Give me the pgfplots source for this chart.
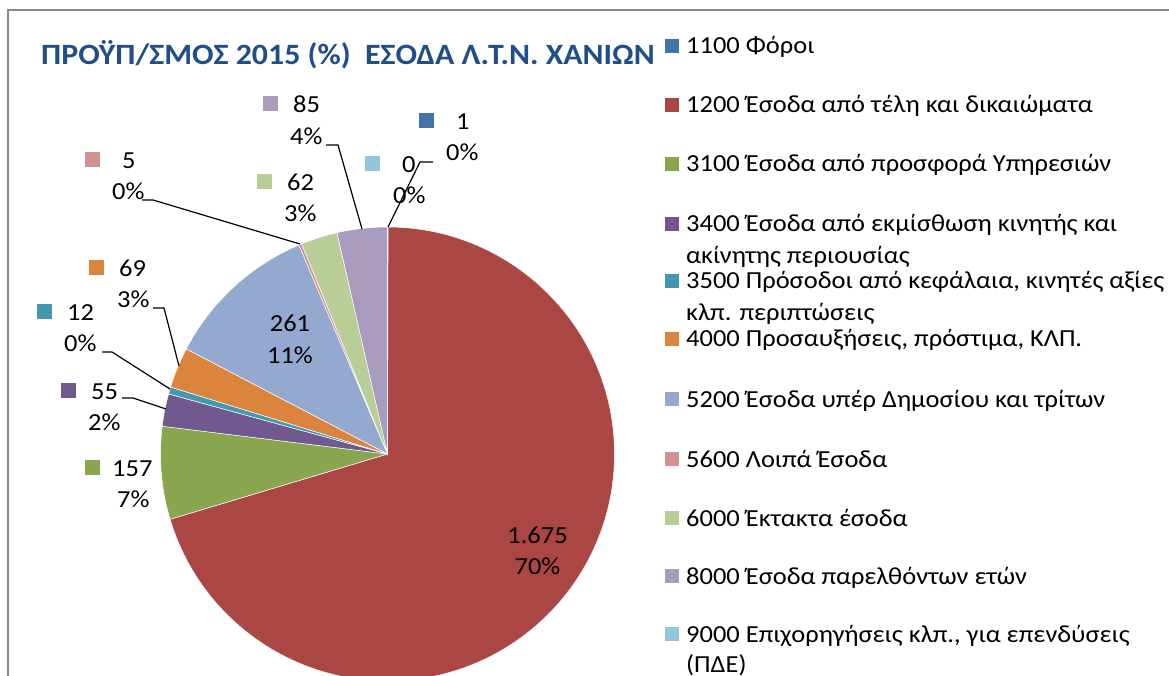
\documentclass[border=0pt]{standalone}
\usepackage{pgfplots}
\usepackage{pgfplotstable}
\pgfplotsset{compat=1.18}
\usepackage{fontspec}
\setmainfont{Carlito}[FakeStretch=1.08]
\definecolor{col0}{HTML}{4572A7}
\definecolor{col1}{HTML}{AA4643}
\definecolor{col2}{HTML}{89A54E}
\definecolor{col3}{HTML}{71588F}
\definecolor{col4}{HTML}{4198AF}
\definecolor{col5}{HTML}{DB843D}
\definecolor{col6}{HTML}{93A9CF}
\definecolor{col7}{HTML}{D19392}
\definecolor{col8}{HTML}{B9CD96}
\definecolor{col9}{HTML}{A99BBD}
\definecolor{col10}{HTML}{93C6DA}
\definecolor{titleblue}{HTML}{1F4E89}
\definecolor{framegray}{HTML}{878787}

\pgfplotstableread{
code value
1100 1
1200 1675
3100 157
3400 55
3500 12
4000 69
5200 261
5600 5
6000 62
8000 85
9000 0
}\piedata

\newcommand{\sq}[1]{\textcolor{#1}{\rule[1.5pt]{15pt}{15pt}}}
\newcommand{\lsq}[1]{\textcolor{#1}{\rule[1pt]{14pt}{14pt}}}
\newcommand{\lfont}{\fontsize{24.5}{31}\selectfont}

\begin{document}
\begin{tikzpicture}[font=\lfont, every node/.append style={inner sep=0pt}]
\pgfplotstablegetrowsof{\piedata}
\pgfmathtruncatemacro\lastrow{\pgfplotsretval-1}
\xdef\pietotal{0}
\foreach \i in {0,...,\lastrow}{%
  \pgfplotstablegetelem{\i}{value}\of\piedata
  \pgfmathsetmacro\tmp{\pietotal+\pgfplotsretval}%
  \xdef\pietotal{\tmp}}
\xdef\piecum{0}
\foreach \i in {0,...,\lastrow}{%
  \pgfplotstablegetelem{\i}{value}\of\piedata
  \pgfmathsetmacro\angA{90-360*(\piecum/\pietotal)}%
  \pgfmathsetmacro\tmp{\piecum+\pgfplotsretval}%
  \xdef\piecum{\tmp}%
  \pgfmathsetmacro\angB{90-360*(\piecum/\pietotal)}%
  \expandafter\xdef\csname pieA\i\endcsname{\angA}%
  \expandafter\xdef\csname pieB\i\endcsname{\angB}}
\begin{axis}[
  scale only axis, width=1169pt, height=675pt,
  xmin=0, xmax=1169, ymin=0, ymax=675,
  hide axis, clip=false,
]
\coordinate (sw) at (rel axis cs:0,0);
\coordinate (ne) at (rel axis cs:1,1);
\draw[framegray, line width=2pt] (axis cs:8,-30) -- (axis cs:8,665) -- (axis cs:1200,665);
\pgfplotsinvokeforeach{0,...,10}{
  \fill[col#1, draw=white, line width=0.5pt] (axis cs:387.5,221) -- ++(\csname pieA#1\endcsname:227pt)
    arc[start angle=\csname pieA#1\endcsname, end angle=\csname pieB#1\endcsname, radius=227pt] -- cycle;
}
% leader lines
\addplot[black, line width=1.2pt, mark=none] coordinates {(433,513) (420,513) (388,448)};
\addplot[black, line width=1.2pt, mark=none] coordinates {(326,530) (338,530) (362,446)};
\addplot[black, line width=1.2pt, mark=none] coordinates {(142,475) (153,475) (300,431)};
\addplot[black, line width=1.2pt, mark=none] coordinates {(153,367) (164,367) (179,309)};
\addplot[black, line width=1.2pt, mark=none] coordinates {(102,323) (112,323) (170,286)};
\addplot[black, line width=1.2pt, mark=none] coordinates {(122,277) (133,277) (166,266)};
% data labels
\node[anchor=base west] at (axis cs:419,545) {\sq{col0}};
\node[anchor=base west] at (axis cs:456,545) {1};
\node[anchor=base west] at (axis cs:446,514) {0\%};
\node[anchor=base west] at (axis cs:365,502) {\sq{col10}};
\node[anchor=base west] at (axis cs:402,502) {0};
\node[anchor=base west] at (axis cs:393,471) {0\%};
\node[anchor=base west] at (axis cs:263,562) {\sq{col9}};
\node[anchor=base west] at (axis cs:293,562) {85};
\node[anchor=base west] at (axis cs:290,530) {4\%};
\node[anchor=base west] at (axis cs:257,484) {\sq{col8}};
\node[anchor=base west] at (axis cs:287,484) {62};
\node[anchor=base west] at (axis cs:284,453) {3\%};
\node[anchor=base west] at (axis cs:85,506) {\sq{col7}};
\node[anchor=base west] at (axis cs:122,506) {5};
\node[anchor=base west] at (axis cs:112,475) {0\%};
\node[anchor=base west] at (axis cs:89,398) {\sq{col5}};
\node[anchor=base west] at (axis cs:119,398) {69};
\node[anchor=base west] at (axis cs:117,367) {3\%};
\node[anchor=base west] at (axis cs:37,354) {\sq{col4}};
\node[anchor=base west] at (axis cs:67,354) {12};
\node[anchor=base west] at (axis cs:64,323) {0\%};
\node[anchor=base west] at (axis cs:61,276) {\sq{col3}};
\node[anchor=base west] at (axis cs:91,276) {55};
\node[anchor=base west] at (axis cs:88,245) {2\%};
\node[anchor=base west] at (axis cs:85,199) {\sq{col2}};
\node[anchor=base west] at (axis cs:112,199) {157};
\node[anchor=base west] at (axis cs:117,168) {7\%};
\node[anchor=base] at (axis cs:290,343) {261};
\node[anchor=base] at (axis cs:290,311) {11\%};
\node[anchor=base] at (axis cs:537.5,132) {1.675};
\node[anchor=base] at (axis cs:537.5,101) {70\%};
% title
\node[anchor=base west, font=\fontsize{29.5}{35}\selectfont\bfseries, text=titleblue] at (axis cs:41,610) {ΠΡΟΫΠ/ΣΜΟΣ 2015 (\%)\ \ ΕΣΟΔΑ Λ.Τ.Ν. ΧΑΝΙΩΝ};
% legend
\node[anchor=base west] at (axis cs:665,621) {\lsq{col0}\hspace{7pt}1100 Φόροι};
\node[anchor=base west] at (axis cs:665,562) {\lsq{col1}\hspace{7pt}1200 Έσοδα από τέλη και δικαιώματα};
\node[anchor=base west] at (axis cs:665,503) {\lsq{col2}\hspace{7pt}3100 Έσοδα από προσφορά Υπηρεσιών};
\node[anchor=base west] at (axis cs:665,443) {\lsq{col3}\hspace{7pt}3400 Έσοδα από εκμίσθωση κινητής και};
\node[anchor=base west] at (axis cs:686,411) {ακίνητης περιουσίας};
\node[anchor=base west] at (axis cs:665,386) {\lsq{col4}\hspace{7pt}3500 Πρόσοδοι από κεφάλαια, κινητές αξίες};
\node[anchor=base west] at (axis cs:686,354) {κλπ. περιπτώσεις};
\node[anchor=base west] at (axis cs:665,328) {\lsq{col5}\hspace{7pt}4000 Προσαυξήσεις, πρόστιμα, ΚΛΠ.};
\node[anchor=base west] at (axis cs:665,268) {\lsq{col6}\hspace{7pt}5200 Έσοδα υπέρ Δημοσίου και τρίτων};
\node[anchor=base west] at (axis cs:665,208) {\lsq{col7}\hspace{7pt}5600 Λοιπά Έσοδα};
\node[anchor=base west] at (axis cs:665,149) {\lsq{col8}\hspace{7pt}6000 Έκτακτα έσοδα};
\node[anchor=base west] at (axis cs:665,91) {\lsq{col9}\hspace{7pt}8000 Έσοδα παρελθόντων ετών};
\node[anchor=base west] at (axis cs:665,33) {\lsq{col10}\hspace{7pt}9000 Επιχορηγήσεις κλπ., για επενδύσεις};
\node[anchor=base west] at (axis cs:686,3) {(ΠΔΕ)};
\end{axis}
\pgfresetboundingbox
\useasboundingbox (sw) rectangle (ne);
\end{tikzpicture}
\end{document}
